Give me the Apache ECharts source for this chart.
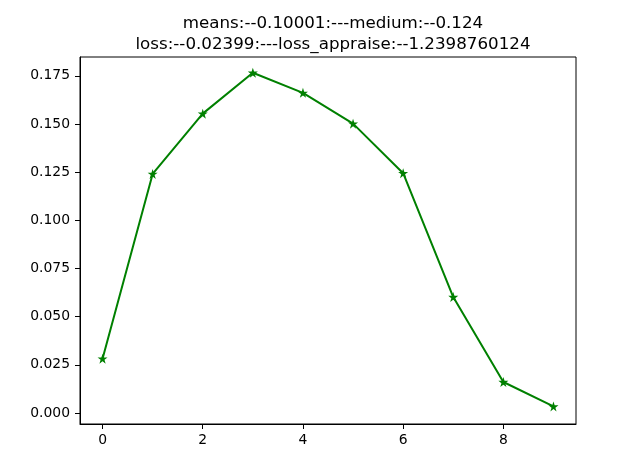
<!DOCTYPE html>
<html>
<head>
<meta charset="utf-8">
<script src="https://cdn.jsdelivr.net/npm/echarts@6/dist/echarts.min.js"></script>
<style>html,body{margin:0;padding:0;background:#fff}#c{width:640px;height:476px}</style>
</head>
<body>
<div id="c"></div>
<script>
var xValues = [0, 1, 2, 3, 4, 5, 6, 7, 8, 9];
var yValues = [0.0282, 0.1241, 0.1554, 0.1766, 0.1662, 0.1502, 0.1245, 0.0602, 0.0161, 0.0034];
var xTicks = [0, 2, 4, 6, 8];
var yTicks = [0, 0.025, 0.05, 0.075, 0.1, 0.125, 0.15, 0.175];
var titleLines = ['means:--0.10001:---medium:--0.124', 'loss:--0.02399:---loss_appraise:--1.2398760124'];

var starPath = 'path://M50,0 L61.8,35.5 L99,35.5 L69,57.5 L80.4,93 L50,71 L19.6,93 L31,57.5 L1,35.5 L38.2,35.5 Z';
var font = 'DejaVu Sans';
var chart = echarts.init(document.getElementById('c'), null, {renderer: 'canvas'});
chart.setOption({
  animation: false,
  backgroundColor: '#fff',
  title: {
    text: titleLines.join('\n'),
    left: 328, top: 8, textAlign: 'center',
    textStyle: {fontFamily: font, fontSize: 16.7, fontWeight: 'normal', color: '#000', lineHeight: 21}
  },
  grid: {left: 80, right: 64, top: 57, bottom: 52, show: true, borderColor: '#000', borderWidth: 1, backgroundColor: 'transparent'},
  xAxis: {
    type: 'value', min: -0.45, max: 9.45,
    splitLine: {show: false},
    axisLine: {show: true, onZero: false, lineStyle: {color: '#000', width: 1}},
    axisTick: {show: true, inside: false, length: 5, lineStyle: {color: '#000'}, customValues: xTicks},
    axisLabel: {customValues: xTicks, margin: 9, color: '#000', fontFamily: font, fontSize: 13.9, formatter: function(v){return String(v);}}
  },
  yAxis: {
    type: 'value', min: -0.0057, max: 0.1848,
    splitLine: {show: false},
    axisLine: {show: true, onZero: false, lineStyle: {color: '#000', width: 1}},
    axisTick: {show: true, inside: false, length: 5, lineStyle: {color: '#000'}, customValues: yTicks},
    axisLabel: {customValues: yTicks, margin: 10, color: '#000', fontFamily: font, fontSize: 13.9, formatter: function(v){return v.toFixed(3);}}
  },
  series: [{
    type: 'line',
    data: xValues.map(function(x, i){return [x, yValues[i]];}),
    lineStyle: {color: '#008000', width: 2},
    itemStyle: {color: '#008000'},
    symbol: starPath, symbolSize: 10, showAllSymbol: true
  }]
});
</script>
</body>
</html>
